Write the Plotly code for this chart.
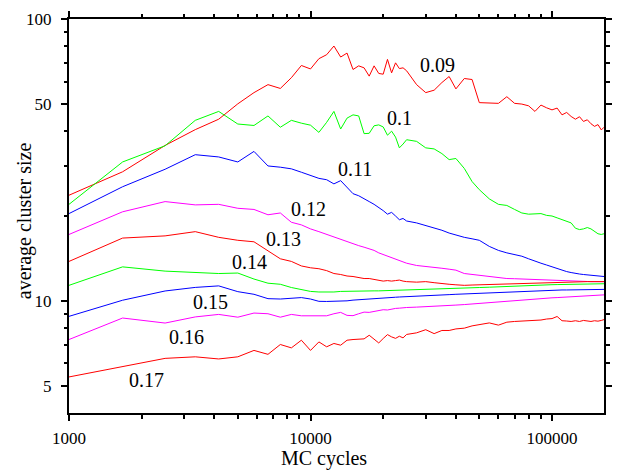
import numpy as np
import plotly.graph_objects as go

# MC cycles (shared sampling of all curves)
mc_cycles = [1000, 1667, 2500, 3333, 4167, 5000, 5833, 6667, 7500, 8333, 9167, 10000,
             10833, 11667, 12500, 13333, 14167, 15000, 15833, 16667, 17500, 18333, 19167, 20000,
             20833, 21667, 22500, 23333, 24167, 25000,
             27500, 30000, 32500, 35000, 37500, 40000,
             43333, 46667, 50000,
             55000, 60000, 65000, 70000, 75000, 80000, 85000, 90000, 95000, 100000, 105000,
             110000, 115000, 120000, 125000, 130000, 135000, 140000, 145000, 150000, 155000, 160000,
             164167]

series_labels = ["0.09", "0.1", "0.11", "0.12", "0.13", "0.14", "0.15", "0.16", "0.17"]

size_009 = [23.7, 28.7, 35.6, 40.5, 44.1, 50.0, 54.8, 58.5, 56.7, 61.9, 68.4, 66.5,
            72.3, 74.7, 80.2, 73.3, 75.7, 66.2, 68.2, 67.1, 62.7, 68.2, 64.1, 63.7,
            71.9, 64.4, 69.9, 66.7, 67.1, 65.5,
            58.5, 54.8, 55.9, 59.5, 62.5, 56.5,
            61.5, 61.0, 50.5,
            50.5, 50.2, 53.0, 50.2, 49.9, 49.2, 47.0, 49.5, 48.4, 47.6, 48.3,
            45.7, 46.6, 45.1, 44.1, 45.0, 43.3, 43.9, 42.5, 41.6, 42.2, 40.4,
            41.3]

size_010 = [22.0, 31.1, 35.5, 43.7, 47.0, 42.4, 41.9, 45.3, 41.3, 43.7, 42.7, 42.0,
            39.6, 43.0, 47.0, 40.7, 44.5, 45.7, 45.3, 39.2, 39.3, 41.8, 42.1, 41.4,
            38.7, 40.0, 38.1, 34.9, 36.0, 37.3,
            36.8, 34.9, 34.6, 33.3, 31.7, 32.0,
            29.5, 26.5, 24.8,
            23.0, 22.0, 21.8, 21.1, 20.5, 20.3, 20.3, 20.4, 20.1, 20.0, 19.7,
            19.4, 19.2, 18.9, 18.1, 17.9, 18.0, 18.2, 18.0, 17.6, 17.3, 17.2,
            17.3]

size_011 = [20.4, 25.4, 29.3, 33.0, 32.4, 31.1, 33.9, 30.1, 29.8, 29.4, 28.6, 27.8,
            27.2, 26.9, 26.0, 26.7, 25.3, 24.0, 23.6, 23.1, 22.5, 22.0, 21.5, 20.9,
            20.3, 20.6, 20.0, 19.4, 19.6, 19.2,
            18.9, 18.5, 18.1, 17.8, 17.4, 17.1,
            16.8, 16.6, 16.4,
            15.6, 15.1, 14.8, 14.6, 14.4, 14.1, 13.8, 13.6, 13.4, 13.2, 13.0,
            12.85, 12.7, 12.6, 12.5, 12.45, 12.4, 12.35, 12.3, 12.3, 12.25, 12.2,
            12.2]

size_012 = [17.2, 20.7, 22.5, 21.9, 22.0, 21.3, 21.1, 20.2, 20.5, 19.0, 18.6, 18.0,
            17.6, 17.2, 16.8, 16.5, 16.2, 15.9, 15.7, 15.5, 15.3, 15.1, 14.8, 14.6,
            14.4, 14.3, 14.1, 13.95, 13.8, 13.6,
            13.35, 13.25, 13.2, 13.05, 12.95, 12.85,
            12.5, 12.4, 12.3,
            12.15, 12.05, 12.0, 11.98, 11.95, 11.9, 11.88, 11.85, 11.85, 11.8, 11.8,
            11.75, 11.75, 11.72, 11.7, 11.7, 11.7, 11.7, 11.7, 11.7, 11.7, 11.7,
            11.7]

size_013 = [13.8, 16.7, 17.0, 17.6, 16.8, 16.4, 16.2, 15.0, 14.1, 13.8, 13.3, 13.1,
            13.0, 12.8, 12.5, 12.4, 12.25, 12.2, 12.1, 12.0, 12.0, 11.9, 11.85, 11.75,
            11.8, 11.75, 11.8, 11.85, 11.75, 11.7,
            11.65, 11.7, 11.6, 11.5, 11.45, 11.4,
            11.35, 11.38, 11.4,
            11.45, 11.5, 11.5, 11.55, 11.55, 11.6, 11.6, 11.62, 11.63, 11.65, 11.66,
            11.67, 11.68, 11.68, 11.69, 11.7, 11.7, 11.7, 11.7, 11.7, 11.7, 11.7,
            11.7]

size_014 = [11.35, 13.2, 12.75, 12.6, 12.5, 12.55, 11.95, 11.55, 11.45, 11.15, 10.95, 10.8,
            10.75, 10.72, 10.75, 10.8, 10.82, 10.82, 10.84, 10.84, 10.84, 10.85, 10.85, 10.86,
            10.86, 10.88, 10.9, 10.9, 10.92, 10.93,
            10.95, 10.98, 11.0, 11.02, 11.04, 11.06,
            11.1, 11.12, 11.15,
            11.18, 11.22, 11.26, 11.3, 11.32, 11.35, 11.37, 11.38, 11.4, 11.41, 11.42,
            11.43, 11.44, 11.45, 11.46, 11.46, 11.47, 11.48, 11.48, 11.49, 11.49, 11.5,
            11.5]

size_015 = [8.81, 10.05, 10.84, 11.16, 11.3, 10.78, 10.55, 10.18, 10.15, 10.22, 10.27, 10.15,
            9.96, 9.95, 9.95, 9.96, 10.0, 10.06, 10.1, 10.12, 10.15, 10.2, 10.22, 10.25,
            10.27, 10.28, 10.3, 10.32, 10.33, 10.35,
            10.38, 10.42, 10.45, 10.48, 10.52, 10.55,
            10.58, 10.62, 10.66,
            10.7, 10.74, 10.78, 10.82, 10.84, 10.86, 10.88, 10.89, 10.9, 10.91, 10.92,
            10.93, 10.93, 10.94, 10.95, 10.95, 10.96, 10.96, 10.97, 10.97, 10.98, 10.98,
            10.98]

size_016 = [7.29, 8.69, 8.34, 8.77, 8.95, 8.75, 9.05, 9.0, 8.75, 8.95, 8.85, 8.85,
            8.82, 8.85, 9.0, 9.1, 8.88, 8.86, 9.0, 9.12, 9.1, 9.18, 9.25, 9.3,
            9.28, 9.35, 9.4, 9.42, 9.45, 9.47,
            9.5, 9.55, 9.58, 9.6, 9.63, 9.66,
            9.7, 9.75, 9.82,
            9.88, 9.95, 10.0, 10.05, 10.08, 10.12, 10.16, 10.19, 10.22, 10.25, 10.27,
            10.3, 10.32, 10.34, 10.36, 10.38, 10.4, 10.42, 10.44, 10.46, 10.48, 10.5,
            10.5]

size_017 = [5.37, 5.86, 6.25, 6.33, 6.22, 6.33, 6.67, 6.46, 7.0, 6.81, 7.25, 6.67,
            7.15, 6.87, 7.06, 6.96, 7.25, 7.29, 7.3, 7.33, 7.55, 7.3, 7.09, 7.35,
            7.59, 7.45, 7.36, 7.49, 7.39, 7.6,
            7.7, 7.9, 7.65, 7.85, 7.85, 7.95,
            8.0, 8.15, 8.25,
            8.35, 8.2, 8.4, 8.45, 8.48, 8.5, 8.5, 8.55, 8.62, 8.65, 8.8,
            8.5, 8.48, 8.45, 8.5, 8.45, 8.52, 8.48, 8.45, 8.5, 8.47, 8.52,
            8.58]

all_sizes = [size_009, size_010, size_011, size_012, size_013, size_014, size_015, size_016, size_017]
line_colors = ["#ff0000", "#00ff00", "#0000ff", "#ff00ff", "#ff0000", "#00ff00", "#0000ff", "#ff00ff", "#ff0000"]

# curve label positions (data coordinates)
label_x = [33570, 23260, 15310, 9840, 7745, 5598, 3843, 3053, 2086]
label_y = [68.4, 44.5, 29.35, 21.1, 16.56, 13.7, 9.9, 7.47, 5.22]

x_major = [1000, 10000, 100000]
x_minor = [2000, 3000, 4000, 5000, 6000, 7000, 8000, 9000,
           20000, 30000, 40000, 50000, 60000, 70000, 80000, 90000]
y_major = [5, 10, 50, 100]
y_minor = [6, 7, 8, 9, 20, 30, 40, 60, 70, 80, 90]

FONT = "Liberation Serif"

fig = go.Figure()
for name, ys, col in zip(series_labels, all_sizes, line_colors):
    fig.add_trace(go.Scatter(x=mc_cycles, y=ys, mode="lines", name=name,
                             line=dict(color=col, width=1), showlegend=False))

for t, lx, ly in zip(series_labels, label_x, label_y):
    fig.add_annotation(x=np.log10(lx), y=np.log10(ly), xref="x", yref="y", text=t,
                       showarrow=False, font=dict(family=FONT, size=20, color="black"))

# axis titles
fig.add_annotation(x=0.4766, y=-0.116, xref="paper", yref="paper", text="MC cycles",
                   showarrow=False, xanchor="center", yanchor="middle",
                   font=dict(family=FONT, size=20, color="black"))
fig.add_annotation(x=-0.0826, y=0.4888, xref="paper", yref="paper", text="average cluster size",
                   textangle=-90, showarrow=False, xanchor="center", yanchor="middle",
                   font=dict(family=FONT, size=20, color="black"))

common = dict(showgrid=False, zeroline=False, showline=True, linecolor="black", linewidth=2,
              mirror="ticks", ticks="outside", ticklen=6, tickwidth=1.5, tickcolor="black",
              tickfont=dict(family=FONT, size=17, color="black"))

fig.update_xaxes(type="log", range=[3, np.log10(164167)], tickvals=x_major,
                 ticktext=[str(v) for v in x_major], ticklabelstandoff=3,
                 minor=dict(ticks="outside", ticklen=3.5, tickwidth=1.5, tickcolor="black",
                            tickvals=x_minor, showgrid=False),
                 **common)
fig.update_yaxes(type="log", range=[np.log10(4), 2], tickvals=y_major,
                 ticktext=[str(v) for v in y_major], ticklabelstandoff=6,
                 minor=dict(ticks="outside", ticklen=3.5, tickwidth=1.5, tickcolor="black",
                            tickvals=y_minor, showgrid=False),
                 **common)

fig.update_layout(width=622, height=470, margin=dict(l=69, r=10, t=15, b=57, pad=0),
                  paper_bgcolor="white", plot_bgcolor="white",
                  font=dict(family=FONT, color="black"))

fig.write_html("out.html", config={"displayModeBar": False},
               post_script="document.body.style.margin='0';document.body.style.overflow='hidden';")
